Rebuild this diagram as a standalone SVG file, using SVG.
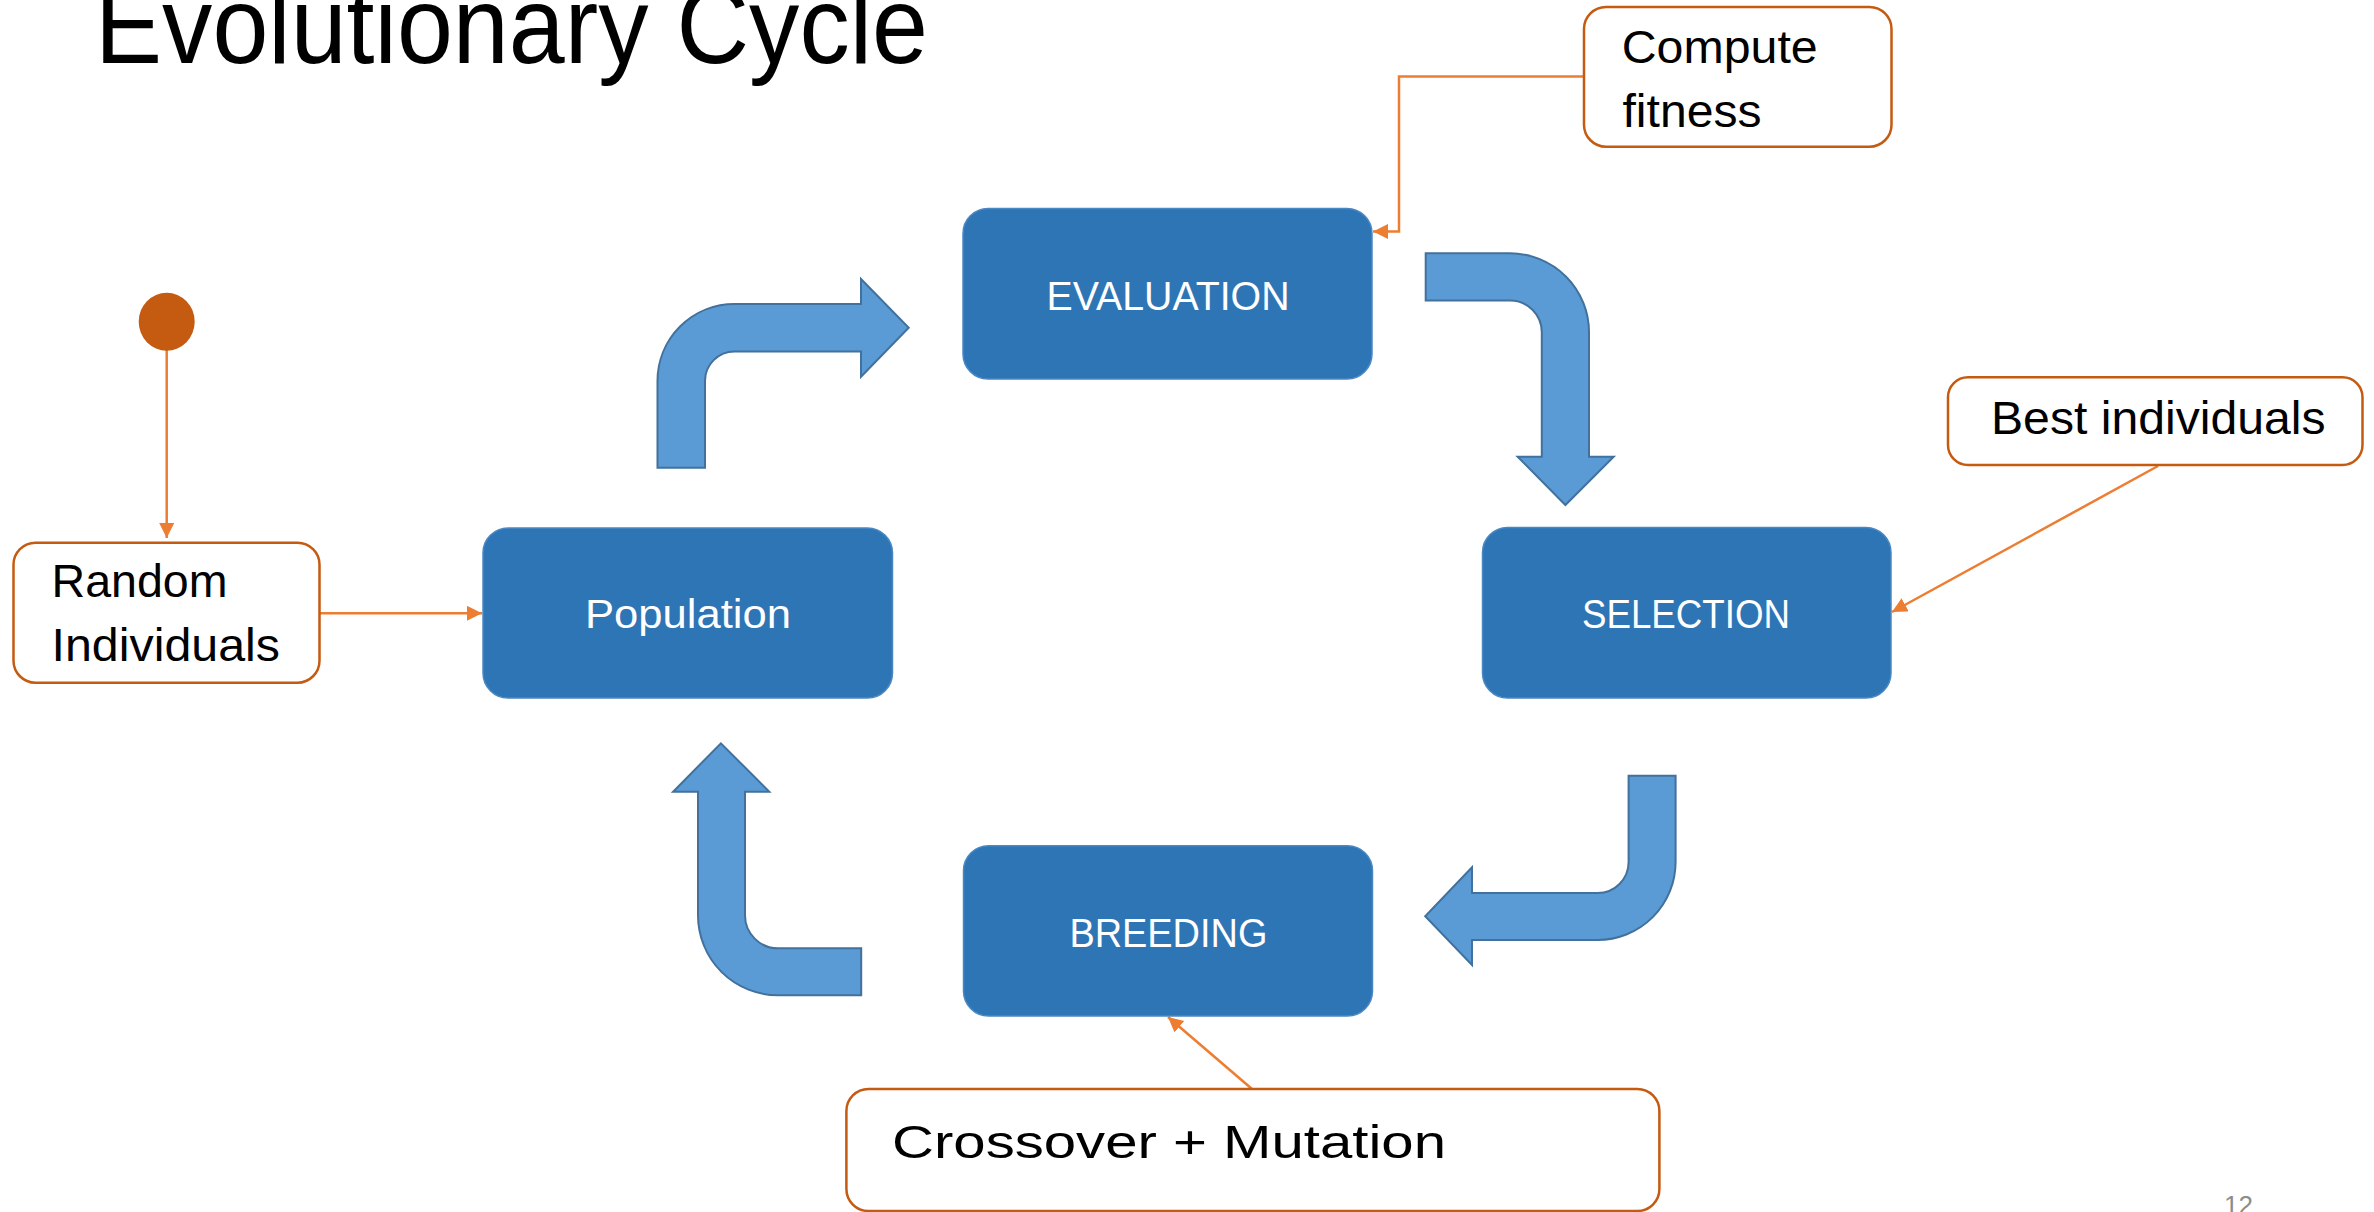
<svg xmlns="http://www.w3.org/2000/svg" width="2374" height="1212" viewBox="0 0 2374 1212">
<defs>
<style>
.box{fill:#2E75B6;stroke:#4A88C4;stroke-width:1.5}
.btxt{font-family:"Liberation Sans",Arial,sans-serif;font-size:41px;fill:#ffffff;text-anchor:middle}
.call{fill:#ffffff;stroke:#C55A11;stroke-width:2.5}
.ctxt{font-family:"Liberation Sans",Arial,sans-serif;font-size:46px;fill:#000000}
.flow{fill:#5B9BD5;stroke:#41719C;stroke-width:2}
.con{fill:none;stroke:#ED7D31;stroke-width:2.5}
</style>
<marker id="ah" markerUnits="userSpaceOnUse" markerWidth="16" markerHeight="16" refX="15" refY="7.5" orient="auto">
<path d="M0,0 L15,7.5 L0,15 Z" fill="#ED7D31"/>
</marker>
</defs>
<rect width="2374" height="1212" fill="#ffffff"/>

<text x="95" y="63" font-family="'Liberation Sans',Arial,sans-serif" font-size="110" fill="#000000" textLength="833" lengthAdjust="spacingAndGlyphs">Evolutionary Cycle</text>

<g id="flow-arrows">
<path class="flow" d="M657.5,467.7 L657.5,381 A77,77 0 0 1 734.5,304 L861,304 L861,279 L908.7,327.8 L861,376.7 L861,351.5 L734.5,351.5 A29.5,29.5 0 0 0 705,381 L705,467.7 Z"/>
<path class="flow" d="M1425.7,253.3 L1510,253.3 A79,79 0 0 1 1589,332.3 L1589,456.7 L1613.7,456.7 L1565.4,505 L1517.6,456.7 L1541.8,456.7 L1541.8,332.3 A31.8,31.8 0 0 0 1510,300.5 L1425.7,300.5 Z"/>
<path class="flow" d="M1628.6,775.7 L1675.6,775.7 L1675.6,862 A78,78 0 0 1 1597.6,940 L1472,940 L1472,965 L1425.2,916.3 L1472,867.3 L1472,893 L1597.6,893 A31,31 0 0 0 1628.6,862 Z"/>
<path class="flow" d="M861.2,995.3 L778,995.3 A80,80 0 0 1 698,915.3 L698,791.7 L673.1,791.7 L720.9,743.3 L769.3,791.7 L745,791.7 L745,915.3 A33,33 0 0 0 778,948.3 L861.2,948.3 Z"/>
</g>

<g id="connectors">
<line class="con" x1="166.7" y1="349" x2="166.7" y2="538" marker-end="url(#ah)"/>
<line class="con" x1="319.5" y1="613.3" x2="482" y2="613.3" marker-end="url(#ah)"/>
<polyline class="con" points="1584,76.5 1399,76.5 1399,231.5 1373,231.5" marker-end="url(#ah)"/>
<line class="con" x1="2158" y1="466" x2="1892" y2="612" marker-end="url(#ah)"/>
<line class="con" x1="1252" y1="1089" x2="1168" y2="1017" marker-end="url(#ah)"/>
</g>

<g id="start">
<ellipse cx="166.7" cy="321.7" rx="28" ry="29" fill="#C55A11"/>
</g>

<g id="random-individuals">
<rect class="call" x="13.5" y="542.7" width="306" height="140" rx="22"/>
<text class="ctxt" x="51.5" y="597.3" textLength="176" lengthAdjust="spacingAndGlyphs">Random</text>
<text class="ctxt" x="51.5" y="660.7" textLength="228.5" lengthAdjust="spacingAndGlyphs">Individuals</text>
</g>

<g id="population">
<rect class="box" x="483" y="528" width="409.5" height="170" rx="25"/>
<text class="btxt" x="688" y="628" textLength="206" lengthAdjust="spacingAndGlyphs">Population</text>
</g>

<g id="evaluation">
<rect class="box" x="963" y="208.5" width="409" height="170.5" rx="25"/>
<text class="btxt" x="1168" y="310" textLength="243" lengthAdjust="spacingAndGlyphs">EVALUATION</text>
</g>

<g id="selection">
<rect class="box" x="1482.5" y="527.5" width="408.5" height="170.5" rx="25"/>
<text class="btxt" x="1686" y="628.3" textLength="208" lengthAdjust="spacingAndGlyphs">SELECTION</text>
</g>

<g id="breeding">
<rect class="box" x="963.5" y="845.7" width="409" height="170.3" rx="25"/>
<text class="btxt" x="1168.4" y="946.7" textLength="198" lengthAdjust="spacingAndGlyphs">BREEDING</text>
</g>

<g id="compute-fitness">
<rect class="call" x="1584" y="7" width="307.5" height="139.7" rx="22"/>
<text class="ctxt" x="1621.7" y="63.3" textLength="196" lengthAdjust="spacingAndGlyphs">Compute</text>
<text class="ctxt" x="1622.5" y="126.7" textLength="139" lengthAdjust="spacingAndGlyphs">fitness</text>
</g>

<g id="best-individuals">
<rect class="call" x="1948" y="377.3" width="414.5" height="87.7" rx="20"/>
<text class="ctxt" x="1991" y="434" textLength="334.5" lengthAdjust="spacingAndGlyphs">Best individuals</text>
</g>

<g id="crossover-mutation">
<rect class="call" x="846.4" y="1089" width="813" height="122" rx="22"/>
<text class="ctxt" x="892" y="1158.3" font-size="55" textLength="554" lengthAdjust="spacingAndGlyphs">Crossover + Mutation</text>
</g>

<text x="2224" y="1214" font-family="'Liberation Sans',Arial,sans-serif" font-size="26" fill="#8C8C8C">12</text>
</svg>
